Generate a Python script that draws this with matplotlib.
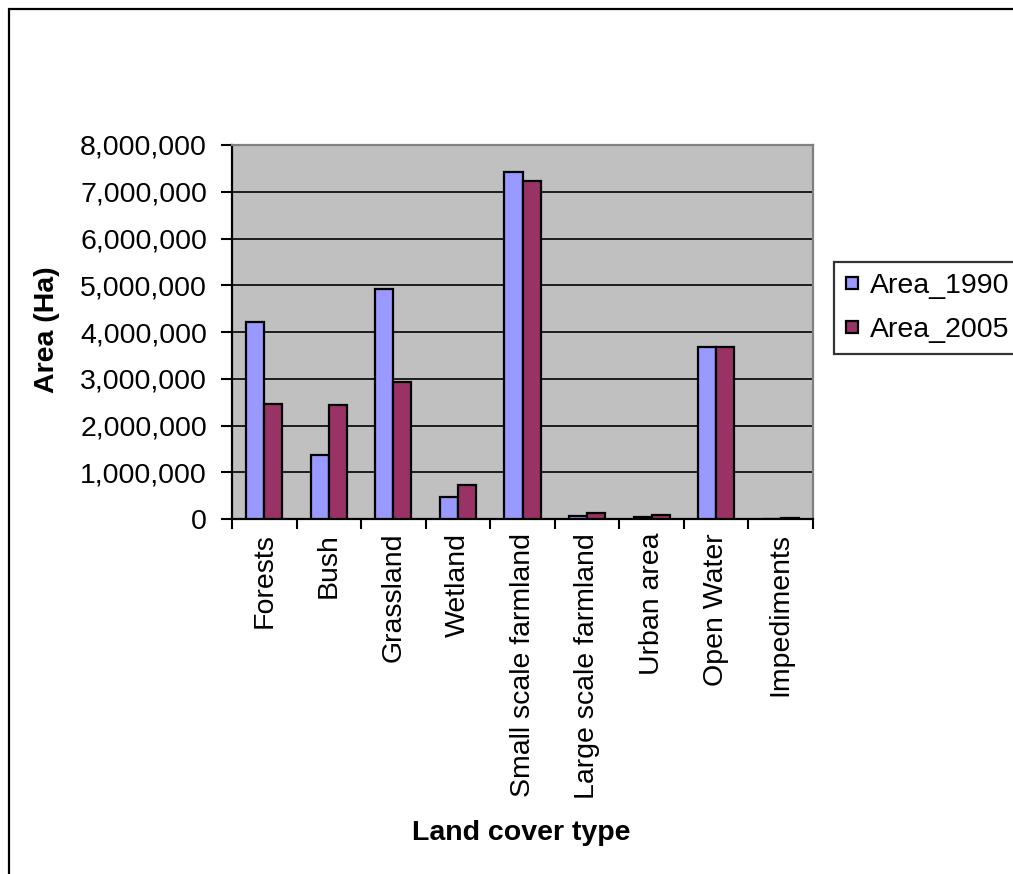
import matplotlib
matplotlib.use("Agg")
import matplotlib.pyplot as plt
import numpy as np
from matplotlib.patches import Rectangle
from matplotlib.legend_handler import HandlerPatch
from matplotlib.ticker import FuncFormatter, FixedLocator

categories = ["Forests", "Bush", "Grassland", "Wetland", "Small scale farmland",
              "Large scale farmland", "Urban area", "Open Water", "Impediments"]
area_1990 = [4220000, 1370000, 4910000, 460000, 7430000, 70000, 40000, 3670000, 5000]
area_2005 = [2470000, 2430000, 2940000, 720000, 7220000, 120000, 85000, 3670000, 30000]
series_names = ["Area_1990", "Area_2005"]

plt.rcParams['font.family'] = ['Liberation Sans', 'DejaVu Sans']
FS = 20.5

fig = plt.figure(figsize=(10.13, 8.74), dpi=100)
W, H = 1013, 874

# outer chart frame (left and top edges visible)
fig.patches.append(Rectangle((9 / W, -0.05), 1.1, (874 - 9) / H + 0.05,
                             transform=fig.transFigure, fill=False,
                             edgecolor='black', linewidth=1.6, zorder=0))

ax = fig.add_axes([232 / W, (H - 519) / H, (813 - 232) / W, (519 - 145) / H])
ax.set_facecolor('#C0C0C0')

x = np.arange(len(categories))
bw = 0.28
b1 = ax.bar(x - bw / 2, area_1990, bw, color='#9999FF', edgecolor='black',
            linewidth=1.6, label=series_names[0], zorder=3)
b2 = ax.bar(x + bw / 2, area_2005, bw, color='#993366', edgecolor='black',
            linewidth=1.6, label=series_names[1], zorder=3)

ax.set_xlim(-0.5, len(categories) - 0.5)
ax.set_ylim(0, 8000000)
ax.set_yticks(np.arange(0, 8000001, 1000000))
ax.yaxis.set_major_formatter(FuncFormatter(lambda v, p: f"{int(v):,}"))
ax.grid(axis='y', color='black', linewidth=1.2, zorder=1)
ax.set_axisbelow(True)

ax.set_xticks(x)
ax.set_xticklabels(categories, rotation=90, fontsize=FS)
ax.xaxis.set_minor_locator(FixedLocator(np.arange(-0.5, len(categories), 1.0)))
ax.tick_params(axis='x', which='major', length=0, pad=10)
ax.tick_params(axis='x', which='minor', length=7, width=1.5, color='black')
ax.tick_params(axis='y', length=8, width=1.5, labelsize=FS, pad=10)

for s in ['left', 'bottom']:
    ax.spines[s].set_color('black')
    ax.spines[s].set_linewidth(1.6)
for s in ['top', 'right']:
    ax.spines[s].set_color('#808080')
    ax.spines[s].set_linewidth(1.6)

fig.text(47 / W, 1 - 330 / H, "Area (Ha)", rotation=90, fontsize=FS,
         fontweight='bold', ha='center', va='center')
fig.text(521 / W, 1 - 833 / H, "Land cover type", fontsize=FS,
         fontweight='bold', ha='center', va='center')


def square_key(legend, orig_handle, xdescent, ydescent, width, height, fontsize):
    s = 0.42 * fontsize
    cx = width / 2 - xdescent
    cy = height / 2 - ydescent
    return Rectangle((cx - s / 2, cy - s / 2), s, s)


leg = fig.legend(handles=[b1.patches[0], b2.patches[0]], labels=series_names,
                 loc='upper left', bbox_to_anchor=(834 / W, 1 - 262 / H),
                 fontsize=FS, frameon=True, fancybox=False, edgecolor='black',
                 handler_map={Rectangle: HandlerPatch(patch_func=square_key)},
                 handlelength=0.45, handleheight=0.7, handletextpad=0.42,
                 borderpad=0.4, labelspacing=0.62, borderaxespad=0)
leg.get_frame().set_linewidth(1.6)

fig.savefig("out.png", dpi=100)
